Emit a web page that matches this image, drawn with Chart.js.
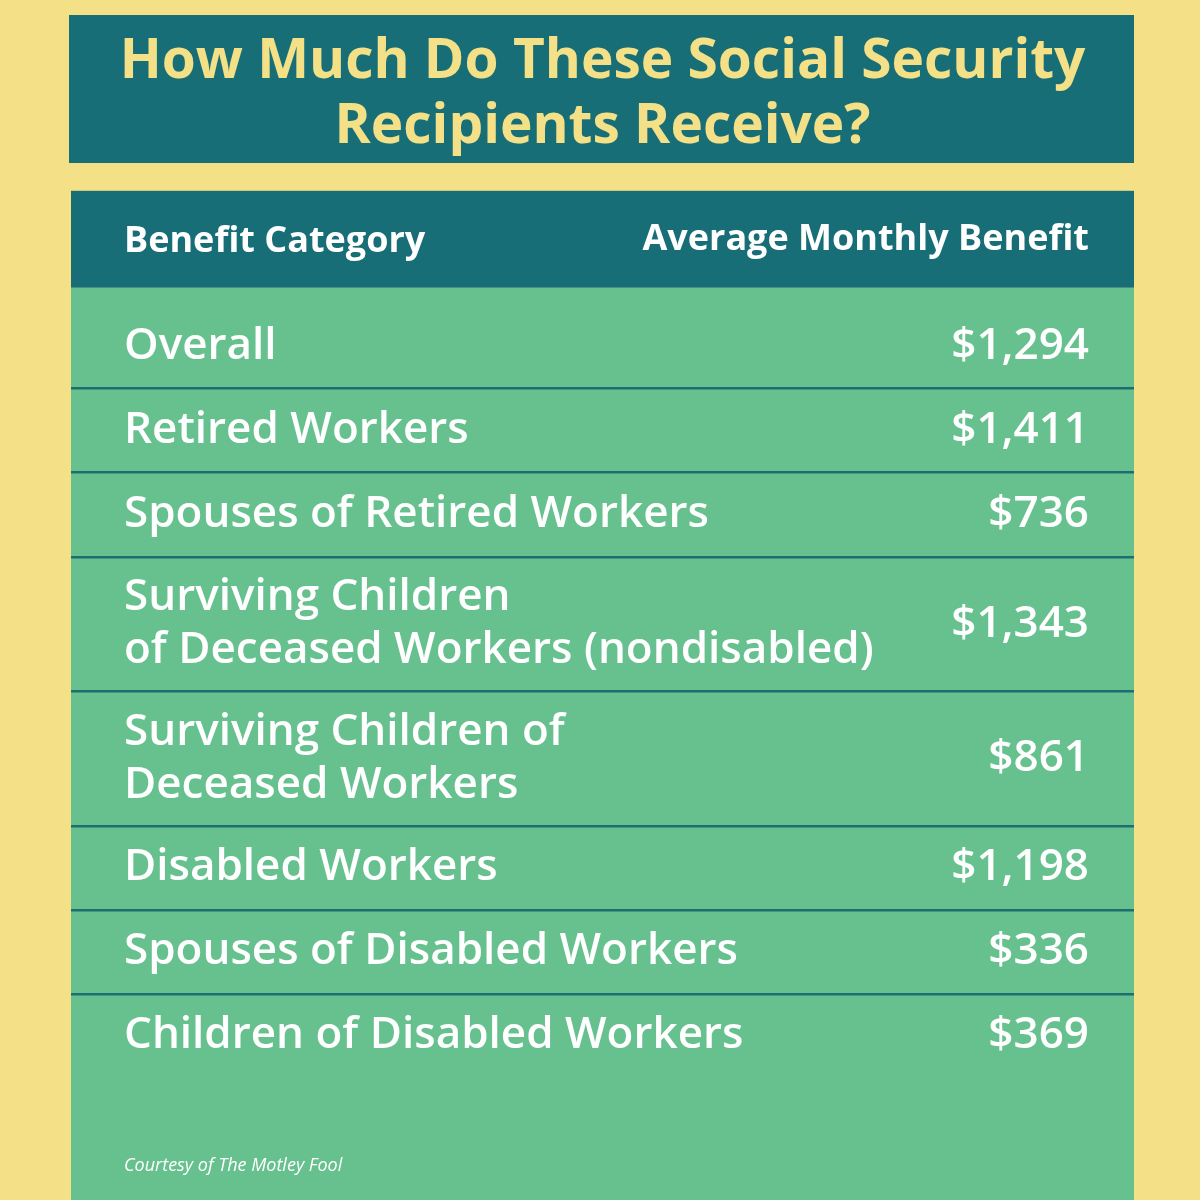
<!DOCTYPE html>
<html>
<head>
<meta charset="utf-8">
<script src="https://cdn.jsdelivr.net/npm/chart.js@4/dist/chart.umd.min.js"></script>
<style>
    html, body { margin: 0; padding: 0; background: #F4E086; }
    #wrap { width: 1200px; height: 1200px; }
</style>
</head>
<body>
<div id="wrap"><canvas id="myChart" width="1200" height="1200"></canvas></div>
<script>
// table data
const titleLines = ['How Much Do These Social Security', 'Recipients Receive?'];
const headers = ['Benefit Category', 'Average Monthly Benefit'];
const categories = [
    'Overall',
    'Retired Workers',
    'Spouses of Retired Workers',
    ['Surviving Children', 'of Deceased Workers (nondisabled)'],
    ['Surviving Children of', 'Deceased Workers'],
    'Disabled Workers',
    'Spouses of Disabled Workers',
    'Children of Disabled Workers'
];
const benefits = [1294, 1411, 736, 1343, 861, 1198, 336, 369];
const footnote = 'Courtesy of The Motley Fool';

const yellow = '#F4E086';
const teal = '#176E77';
const green = '#66C18F';
const rule = '#1E6E71';

// rows with two lines of text get more room
const rowLines = categories.map(c => Array.isArray(c) ? c : [c]);
const rowWeights = rowLines.map(l => l.length > 1 ? 1.6 : 1);
let acc = 0;
const rowEdges = [0];
const rowCenters = [];
rowWeights.forEach(w => {
    rowCenters.push(acc + w / 2);
    acc += w;
    rowEdges.push(acc);
});
const totalUnits = acc;
const headerGap = 0.2;

const tablePlugin = {
    id: 'tablePlugin',
    beforeDraw(chart) {
        const { ctx, chartArea } = chart;
        ctx.save();
        ctx.fillStyle = yellow;
        ctx.fillRect(0, 0, chart.width, chart.height);
        // title box
        ctx.fillStyle = teal;
        ctx.fillRect(chartArea.left - 2, 15, chartArea.right - chartArea.left + 2, 148);
        // header band
        ctx.fillRect(chartArea.left, chartArea.top - 97, chartArea.right - chartArea.left, 97);
        // body
        ctx.fillStyle = green;
        ctx.fillRect(chartArea.left, chartArea.top, chartArea.right - chartArea.left, chart.height - chartArea.top);
        ctx.restore();
    },
    afterDatasetsDraw(chart) {
        const { ctx, chartArea } = chart;
        const yScale = chart.scales.y;
        const textLeft = chartArea.left + 53;
        const textRight = chartArea.right - 45;

        ctx.save();
        ctx.fillStyle = '#ffffff';
        ctx.textBaseline = 'middle';

        // header
        ctx.font = "bold 36px 'Open Sans'";
        ctx.textAlign = 'left';
        ctx.fillText(headers[0], textLeft, chartArea.top - 46);
        ctx.textAlign = 'right';
        ctx.fillText(headers[1], textRight, chartArea.top - 48);

        // rows
        ctx.font = "600 44px 'Open Sans'";
        const lineH = 53;
        chart.data.datasets[0].data.forEach((pt, i) => {
            const y = yScale.getPixelForValue(pt.y);
            const lines = rowLines[i];
            ctx.textAlign = 'left';
            lines.forEach((txt, k) => {
                ctx.fillText(txt, textLeft, y + (k - (lines.length - 1) / 2) * lineH);
            });
            ctx.textAlign = 'right';
            ctx.fillText('$' + pt.x.toLocaleString('en-US'), textRight, y);
        });

        // footnote
        ctx.font = "italic 18px 'Open Sans'";
        ctx.textAlign = 'left';
        ctx.fillText(footnote, textLeft, chart.height - 34);
        ctx.restore();
    }
};

const ctx = document.getElementById('myChart');

const benefitChart = new Chart(ctx, {
    type: 'bar',
    data: {
        datasets: [{
            label: headers[1],
            data: benefits.map((v, i) => ({ x: v, y: rowCenters[i] })),
            backgroundColor: 'rgba(0,0,0,0)',
            borderWidth: 0
        }]
    },
    options: {
        responsive: false,
        animation: false,
        indexAxis: 'y',
        layout: {
            padding: { left: 71, right: 66, top: 0, bottom: 122 }
        },
        scales: {
            x: {
                type: 'linear',
                display: false,
                min: 0
            },
            y: {
                type: 'linear',
                reverse: true,
                offset: false,
                min: -headerGap,
                max: totalUnits,
                afterBuildTicks: (scale) => {
                    scale.ticks = rowEdges.map(v => ({ value: v }));
                },
                ticks: { display: false },
                border: { display: false },
                grid: {
                    offset: false,
                    drawTicks: false,
                    lineWidth: 2.5,
                    color: (c) => (c.index === 0 || c.index === rowEdges.length - 1) ? 'rgba(0,0,0,0)' : rule
                }
            }
        },
        plugins: {
            legend: { display: false },
            tooltip: { enabled: false },
            title: {
                display: true,
                text: titleLines,
                color: yellow,
                font: { family: 'Open Sans', size: 55, weight: 'bold', lineHeight: 1.18 },
                padding: { top: 30, bottom: 128 }
            }
        }
    },
    plugins: [tablePlugin]
});
</script>
</body>
</html>
